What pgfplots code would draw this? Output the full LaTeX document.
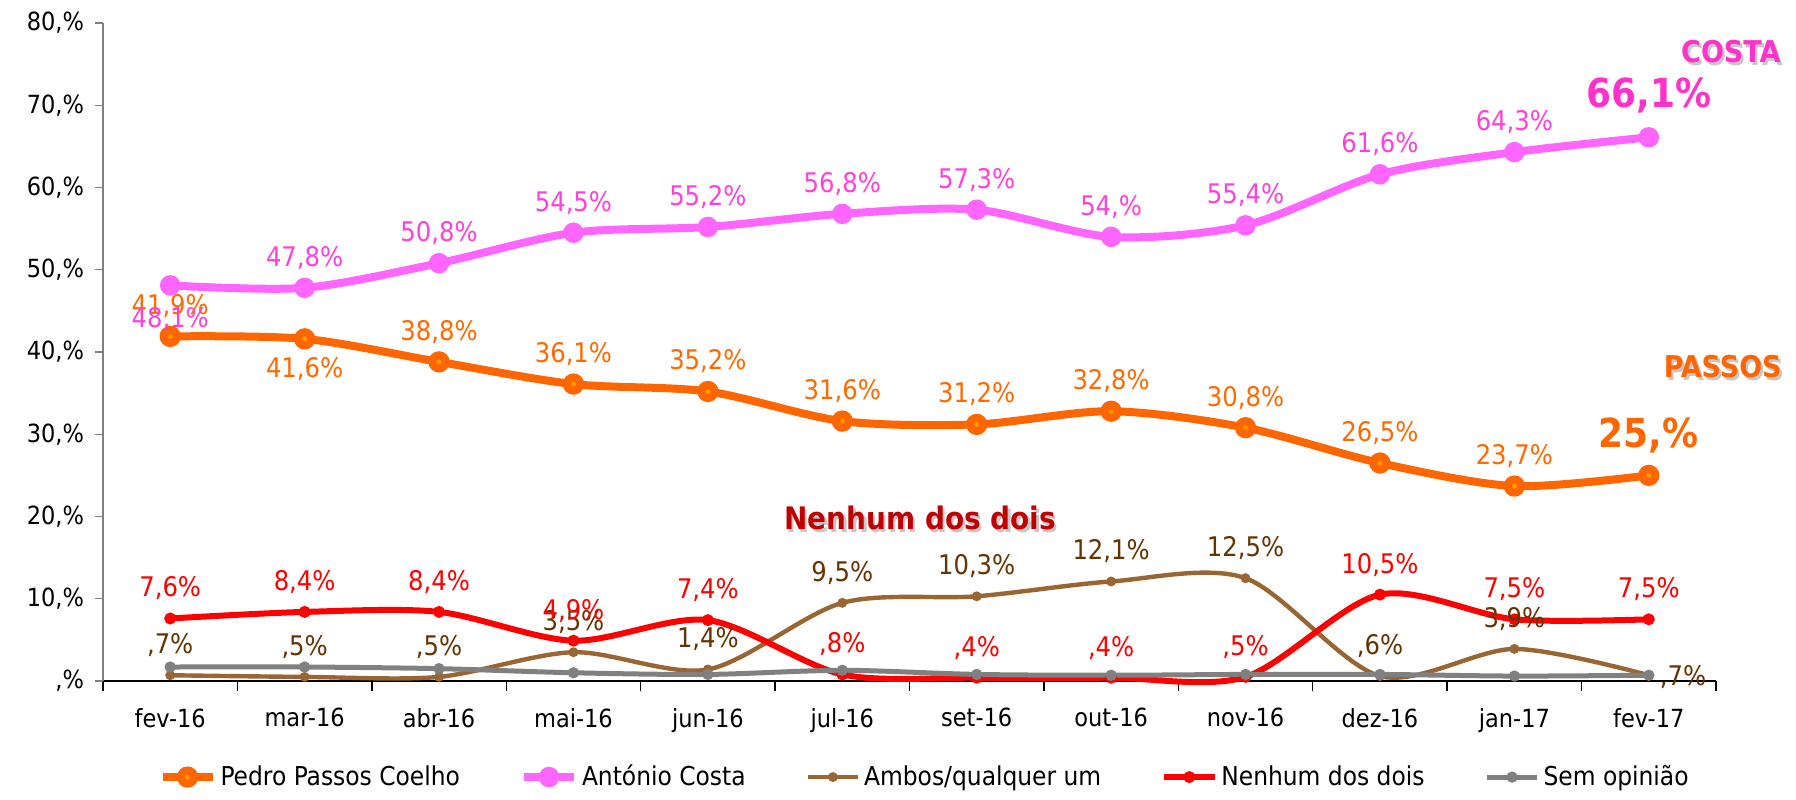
\documentclass[border=0pt]{standalone}
\usepackage{pgfplots}
\pgfplotsset{compat=1.18}
\usepackage{fontspec}
\setmainfont{DejaVu Sans Condensed}
\definecolor{orLine}{HTML}{FF6600}
\definecolor{orMark}{HTML}{FF9900}
\definecolor{orText}{HTML}{FF6A00}
\definecolor{pkLine}{HTML}{FF66FF}
\definecolor{pkText}{HTML}{FF40D9}
\definecolor{pkBig}{HTML}{FF33CC}
\definecolor{brLine}{HTML}{996633}
\definecolor{brText}{HTML}{663300}
\definecolor{rdLine}{HTML}{FF0000}
\definecolor{rdDark}{HTML}{C00000}
\definecolor{gyLine}{HTML}{808080}
\begin{document}
\begin{tikzpicture}
\begin{axis}[
  scale only axis, width=806.5pt, height=329pt,
  at={(0,0)}, anchor=south west,
  xmin=-0.5, xmax=11.5, ymin=0, ymax=80,
  clip=false,
  axis x line*=bottom, axis y line*=left,
  x axis line style={black, line width=0.7pt},
  y axis line style={gray, line width=0.7pt},
  xtick={0,...,11},
  xticklabels={fev-16,mar-16,abr-16,mai-16,jun-16,jul-16,set-16,out-16,nov-16,dez-16,jan-17,fev-17},
  major x tick style={draw=none},
  minor xtick={-0.5,0.5,...,11.5},
  minor x tick style={black, line width=0.7pt},
  minor tick length=5pt,
  tick align=outside,
  ytick={0,10,...,80},
  yticklabels={{,\%},{10,\%},{20,\%},{30,\%},{40,\%},{50,\%},{60,\%},{70,\%},{80,\%}},
  y tick style={gray, line width=0.7pt},
  major tick length=4pt,
  tick label style={font=\fontsize{12.5}{15}\selectfont},
  xticklabel style={yshift=-6pt},
  yticklabel style={xshift=-2pt},
  /pgf/number format/assume math mode=true,
  legend style={at={(axis description cs:0.51,-0.146)}, anchor=center,
    legend columns=5, draw=none, font=\fontsize{13}{15}\selectfont,
    /tikz/every even column/.append style={column sep=28pt}},
  legend cell align=left,
  legend image code/.code={\draw[mark repeat=2,mark phase=2,#1] plot coordinates {(0pt,0pt)(12.5pt,0pt)(25pt,0pt)};},
]
% ---- series ----
\addplot[orLine, line width=4pt, smooth, tension=0.5, mark=*, mark size=3.3pt,
  mark options={draw=none, fill=orMark}]
  coordinates {(0,41.9)(1,41.6)(2,38.8)(3,36.1)(4,35.2)(5,31.6)(6,31.2)(7,32.8)(8,30.8)(9,26.5)(10,23.7)(11,25.0)};
\addlegendentry{Pedro Passos Coelho}
\addplot[pkLine, line width=4pt, smooth, tension=0.5, mark=*, mark size=3.1pt,
  mark options={draw=none, fill=pkLine}]
  coordinates {(0,48.1)(1,47.8)(2,50.8)(3,54.5)(4,55.2)(5,56.8)(6,57.3)(7,54.0)(8,55.4)(9,61.6)(10,64.3)(11,66.1)};
\addlegendentry{António Costa}
\addplot[brLine, line width=2.2pt, smooth, tension=0.5, mark=*, mark size=1.3pt,
  mark options={draw=none, fill=brText}]
  coordinates {(0,0.7)(1,0.5)(2,0.5)(3,3.5)(4,1.4)(5,9.5)(6,10.3)(7,12.1)(8,12.5)(9,0.6)(10,3.9)(11,0.7)};
\addlegendentry{Ambos/qualquer um}
\addplot[rdLine, line width=3pt, smooth, tension=0.5, mark=*, mark size=1.4pt,
  mark options={draw=none, fill=rdDark}]
  coordinates {(0,7.6)(1,8.4)(2,8.4)(3,4.9)(4,7.4)(5,0.8)(6,0.4)(7,0.4)(8,0.5)(9,10.5)(10,7.5)(11,7.5)};
\addlegendentry{Nenhum dos dois}
\addplot[gyLine, line width=2.5pt, smooth, tension=0.5, mark=*, mark size=1.5pt,
  mark options={draw=none, fill=gyLine!80!black}]
  coordinates {(0,1.7)(1,1.7)(2,1.5)(3,1.0)(4,0.8)(5,1.3)(6,0.8)(7,0.7)(8,0.8)(9,0.8)(10,0.6)(11,0.7)};
\addlegendentry{Sem opinião}
% ---- data labels ----
\pgfplotsset{lab/.style={forget plot, draw=none, mark=none, point meta=explicit symbolic,
  nodes near coords, nodes near coords style={anchor=center, text=#1, font=\fontsize{13.5}{16}\selectfont}}}
\addplot[lab=orText, nodes near coords style={yshift=15pt}]
  coordinates {(0,41.9)[41,9\%] (2,38.8)[38,8\%] (3,36.1)[36,1\%] (4,35.2)[35,2\%] (5,31.6)[31,6\%] (6,31.2)[31,2\%] (7,32.8)[32,8\%] (8,30.8)[30,8\%] (9,26.5)[26,5\%] (10,23.7)[23,7\%]};
\addplot[lab=orText, nodes near coords style={yshift=-15pt}]
  coordinates {(1,41.6)[41,6\%]};
\addplot[lab=pkText, nodes near coords style={yshift=15pt}]
  coordinates {(1,47.8)[47,8\%] (2,50.8)[50,8\%] (3,54.5)[54,5\%] (4,55.2)[55,2\%] (5,56.8)[56,8\%] (6,57.3)[57,3\%] (7,54.0)[54,\%] (8,55.4)[55,4\%] (9,61.6)[61,6\%] (10,64.3)[64,3\%]};
\addplot[lab=pkText, nodes near coords style={yshift=-17pt}]
  coordinates {(0,48.1)[48,1\%]};
\addplot[lab=brText, nodes near coords style={yshift=15pt}]
  coordinates {(0,0.7)[,7\%] (1,0.5)[,5\%] (2,0.5)[,5\%] (3,3.5)[3,5\%] (4,1.4)[1,4\%] (5,9.5)[9,5\%] (6,10.3)[10,3\%] (7,12.1)[12,1\%] (8,12.5)[12,5\%] (9,0.6)[,6\%] (10,3.9)[3,9\%]};
\addplot[lab=brText, nodes near coords style={anchor=west, xshift=2pt, yshift=-1pt}]
  coordinates {(11,0.7)[,7\%]};
\addplot[lab=rdLine, nodes near coords style={yshift=15pt}]
  coordinates {(0,7.6)[7,6\%] (1,8.4)[8,4\%] (2,8.4)[8,4\%] (3,4.9)[4,9\%] (4,7.4)[7,4\%] (5,0.8)[,8\%] (6,0.4)[,4\%] (7,0.4)[,4\%] (8,0.5)[,5\%] (9,10.5)[10,5\%] (10,7.5)[7,5\%] (11,7.5)[7,5\%]};
\addplot[lab=pkBig, nodes near coords style={yshift=21pt, font=\bfseries\fontsize{20}{24}\selectfont}]
  coordinates {(11,66.1)[66,1\%]};
\addplot[lab=orLine, nodes near coords style={yshift=20pt, font=\bfseries\fontsize{20}{24}\selectfont}]
  coordinates {(11,25.0)[25,\%]};
% ---- annotations ----
\node[font=\bfseries\fontsize{15}{18}\selectfont, text=black!22, xshift=1.2pt, yshift=-1.2pt] at (axis cs:11.61,76.5) {COSTA};
\node[font=\bfseries\fontsize{15}{18}\selectfont, text=pkBig] at (axis cs:11.61,76.5) {COSTA};
\node[font=\bfseries\fontsize{15}{18}\selectfont, text=black!22, xshift=1.2pt, yshift=-1.2pt] at (axis cs:11.55,38.2) {PASSOS};
\node[font=\bfseries\fontsize{15}{18}\selectfont, text=orLine] at (axis cs:11.55,38.2) {PASSOS};
\node[font=\bfseries\fontsize{15.5}{18}\selectfont, text=black!22, xshift=1.2pt, yshift=-1.2pt] at (axis cs:5.58,19.8) {Nenhum dos dois};
\node[font=\bfseries\fontsize{15.5}{18}\selectfont, text=rdDark] at (axis cs:5.58,19.8) {Nenhum dos dois};
\end{axis}
\pgfresetboundingbox
\path (-51.5pt,-59pt) rectangle (846.5pt,340.5pt);
\end{tikzpicture}
\end{document}
